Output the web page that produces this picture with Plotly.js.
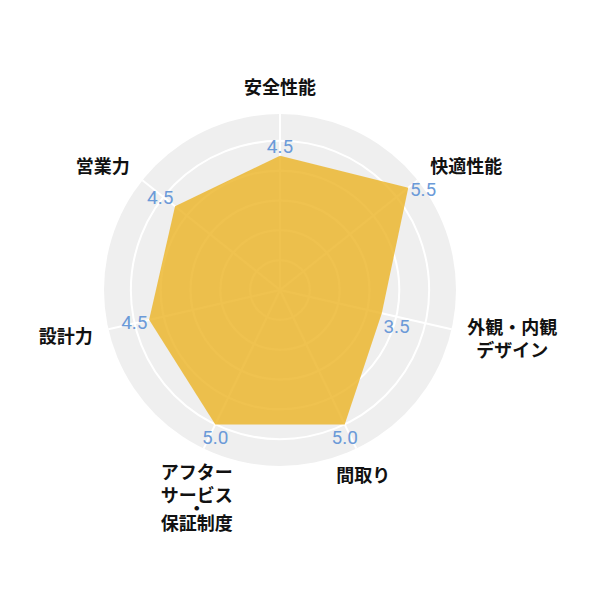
<!DOCTYPE html>
<html>
<head>
<meta charset="utf-8">
<script src="https://cdn.plot.ly/plotly-3.0.1.min.js"></script>
<style>html,body{margin:0;padding:0;background:#fff;}</style>
</head>
<body>
<div id="chart" style="width:600px;height:600px;"></div>
<script>
const categories = ["安全性能", "快適性能", "外観・内観<br>デザイン", "間取り", "アフター<br>サービス<br>・<br>保証制度", "設計力", "営業力"];
const scores = [4.5, 5.5, 3.5, 5.0, 5.0, 4.5, 4.5];
const scoreLabels = ["4.5", "5.5", "3.5", "5.0", "5.0", "4.5", "4.5"];
const labelPositions = ["top center", "middle right", "bottom right", "bottom center", "bottom center", "middle left", "top left"];
const centeredLabels = ["間取り", "アフター<br>サービス<br>・<br>保証制度"];

const trace = {
  type: "scatterpolar",
  r: scores,
  theta: categories,
  mode: "markers+text",
  marker: {size: 1, color: "rgba(0,0,0,0)"},
  text: scoreLabels,
  textposition: labelPositions,
  textfont: {family: "Roboto, 'Noto Sans', sans-serif", size: 19, color: "#6b9ad8"},
  fill: "toself",
  fillcolor: "rgba(236,180,40,0.82)",
  line: {width: 0, color: "rgba(236,180,40,0.82)"},
  hoverinfo: "skip",
  cliponaxis: false
};

const layout = {
  width: 600,
  height: 600,
  margin: {l: 104, r: 144, t: 114, b: 134},
  paper_bgcolor: "#ffffff",
  showlegend: false,
  font: {family: "'Noto Sans CJK JP', sans-serif", color: "#111111"},
  polar: {
    bgcolor: "#efefef",
    domain: {x: [0, 1], y: [0, 1]},
    radialaxis: {
      range: [0, 5.9],
      dtick: 1,
      showticklabels: false,
      ticks: "",
      showline: false,
      gridcolor: "#ffffff",
      gridwidth: 2,
      layer: "above traces"
    },
    angularaxis: {
      direction: "clockwise",
      rotation: 90,
      showline: false,
      gridcolor: "#ffffff",
      gridwidth: 2,
      ticks: "outside",
      ticklen: 12,
      tickcolor: "rgba(0,0,0,0)",
      tickfont: {family: "'Noto Sans CJK JP', sans-serif", size: 18, color: "#111111", weight: 600},
      layer: "below traces"
    }
  }
};

function emOf(s) {
  const v = parseFloat(s || "0");
  return isNaN(v) ? 0 : v;
}

function alignLabels() {
  const plain = categories.map(c => c.replace(/<br>/g, ""));
  const centeredPlain = centeredLabels.map(c => c.replace(/<br>/g, ""));
  document.querySelectorAll("#chart svg text").forEach(t => {
    const txt = t.textContent;
    const idx = plain.indexOf(txt);
    if (idx < 0) return;
    const bb = t.getBBox();
    const anchor = t.getAttribute("text-anchor") || "start";
    let cx;
    if (centeredPlain.indexOf(txt) >= 0) {
      cx = anchor === "end" ? bb.x + bb.width : (anchor === "start" ? bb.x : bb.x + bb.width / 2);
    } else {
      cx = bb.x + bb.width / 2;
    }
    t.setAttribute("text-anchor", "middle");
    t.style.textAnchor = "middle";
    t.setAttribute("x", cx);
    const lines = Array.from(t.querySelectorAll("tspan.line"));
    lines.forEach(s => s.setAttribute("x", cx));
    // the lone middle dot sits on a tighter line, as in the reference
    const dotIdx = lines.findIndex(s => s.textContent === "・");
    if (dotIdx > 0) {
      const prev = emOf(lines[dotIdx - 1].getAttribute("dy"));
      const dotDy = prev + 0.72;
      lines[dotIdx].setAttribute("dy", dotDy + "em");
      if (lines[dotIdx + 1]) lines[dotIdx + 1].setAttribute("dy", (dotDy + 0.85) + "em");
    }
  });
  // value labels sit a little lower relative to their vertices in the reference
  document.querySelectorAll("#chart .textpoint text").forEach(t => {
    const y = parseFloat(t.getAttribute("y"));
    if (!isNaN(y)) t.setAttribute("y", y + 4);
  });
}

Plotly.newPlot("chart", [trace], layout, {displayModeBar: false, staticPlot: true}).then(alignLabels);
</script>
</body>
</html>
